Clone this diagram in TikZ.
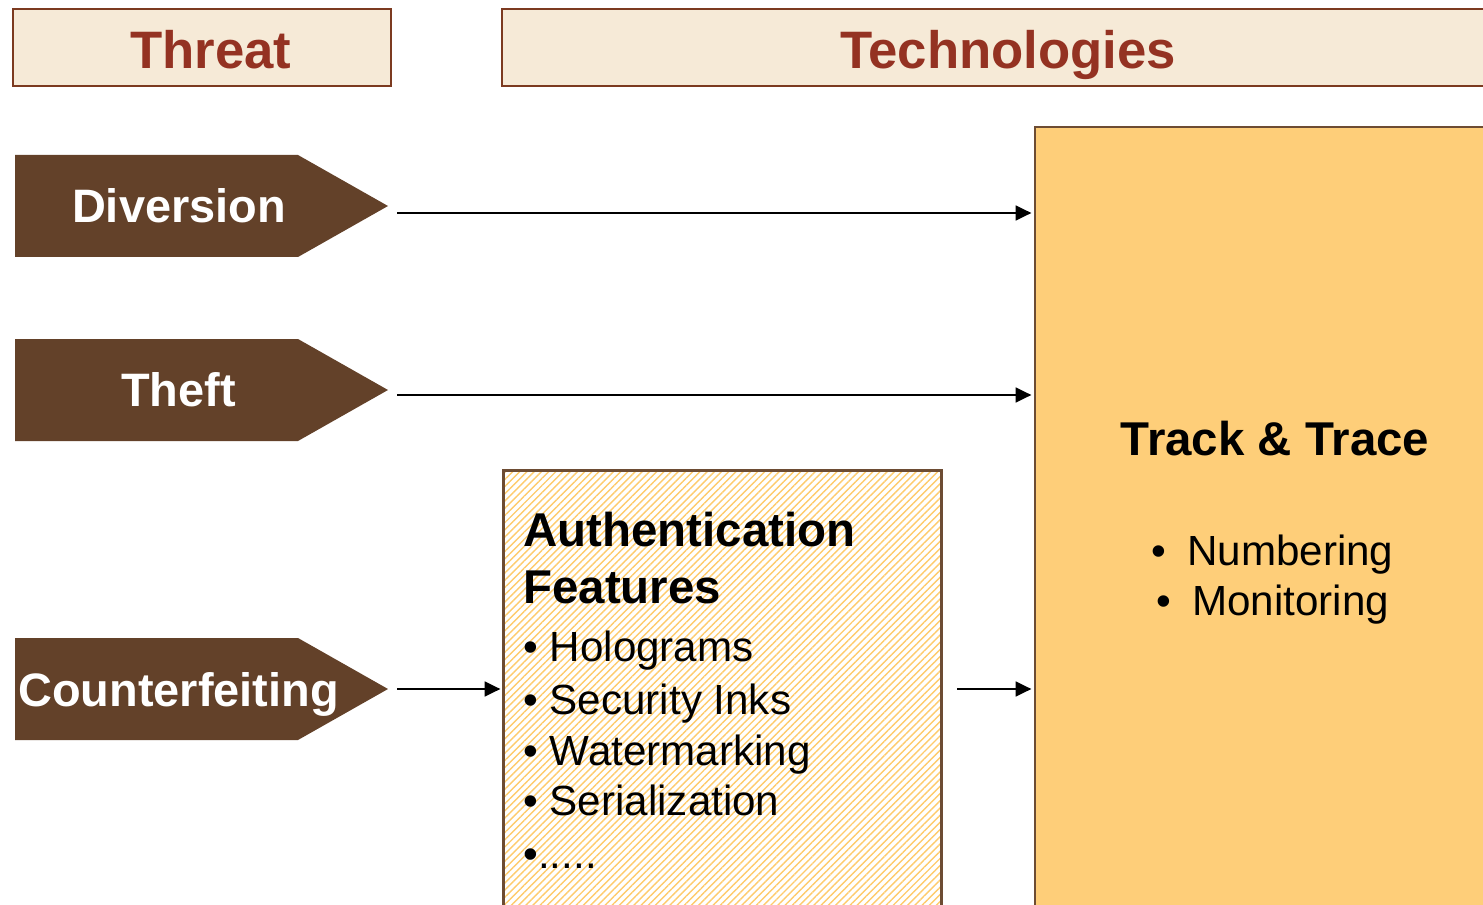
\documentclass[tikz,border=0pt]{standalone}
\usepackage{fontspec}
\setmainfont{Liberation Sans}
\usetikzlibrary{arrows.meta,patterns.meta,positioning}

\definecolor{headfill}{HTML}{F6EAD7}
\definecolor{headline}{HTML}{7C3A20}
\definecolor{headtext}{HTML}{943222}
\definecolor{threatbrown}{HTML}{634129}
\definecolor{trackfill}{HTML}{FECE79}
\definecolor{boxline}{HTML}{6D4C33}
\definecolor{hatch}{HTML}{FECB6C}

\begin{document}
\begin{tikzpicture}[x=0.02cm,y=-0.02cm]
    \tikzset{>={Triangle[length=9pt,width=8.5pt]}}
    \tikzset{head/.style={font=\fontsize{30}{36}\selectfont\bfseries,text=headtext,anchor=base,inner sep=0pt}}
    \tikzset{threat/.style={font=\fontsize{26.7}{32}\selectfont\bfseries,text=white,anchor=base,inner sep=0pt}}
    \tikzset{title/.style={font=\fontsize{27}{32}\selectfont\bfseries,inner sep=0pt}}
    \tikzset{item/.style={font=\fontsize{24}{29}\selectfont,anchor=base west,inner sep=0pt}}
    \tikzset{conn/.style={->,line width=1.1pt,shorten >=1.5pt}}
  \useasboundingbox (0,0) rectangle (1483,905);
  %\draw[step=100,gray,very thin] (0,0) grid (1483,905);

  % column heads
  \draw [line width=1.4pt,draw=headline,fill=headfill] (13,9) rectangle (391,86);
  \draw [line width=1.4pt,draw=headline,fill=headfill] (502,9) rectangle (1520,86);
\node[head] (TH) at (211,68.5) {Threat};
\node[head] (TE) at (1008,68.5) {Technologies};

  % threats
  \fill [threatbrown] (15,155) -- (298,155) -- (388,206) -- (298,257) -- (15,257) -- cycle;
  \fill [threatbrown] (15,339) -- (298,339) -- (388,390) -- (298,441) -- (15,441) -- cycle;
  \fill [threatbrown] (15,638) -- (298,638) -- (388,689) -- (298,740) -- (15,740) -- cycle;
\node[threat] (DV) at (179,222.7) {Diversion};
\node[threat] (TF) at (178.5,406.7) {Theft};
\node[threat] (CF) at (178.5,706) {Counterfeiting};

  % technologies
\node[draw=boxline,line width=1.4pt,fill=trackfill,anchor=north west,inner sep=0pt,
      minimum width=10cm,minimum height=16cm] (TT) at (1034,126) {};
\node[draw=boxline,line width=1.4pt,anchor=north west,inner sep=0pt,
      pattern={Lines[angle=45,distance=2.9pt,line width=0.8pt]},pattern color=hatch,
      minimum width=8.76cm,minimum height=10cm] (AF) at (503,470) {};

\node[title,anchor=base] (TTT) at (1275,455) {Track \& Trace};
\node[item] (N) at (1151,565) {•\hspace{12pt}Numbering};
\node[item] (M) at (1156,615) {•\hspace{12pt}Monitoring};

\node[title,anchor=base west] (AFT) at (523,546.7) {Authentication};
\node[title,anchor=base west] (AFF) at (523,603) {Features};
\node[item] (H) at (523,661.7) {• Holograms};
\node[item] (S) at (523,714) {• Security Inks};
\node[item] (W) at (523,765) {• Watermarking};
\node[item] (SE) at (523,815) {• Serialization};
\node[item] (D) at (523,868) {•.....};

\coordinate (DVout) at (397,213);
\coordinate (TFout) at (397,395);
\coordinate (CFout) at (397,689);
\coordinate (AFout) at (957,689);

\draw [conn] (DVout) -- (DVout -| TT.west);
\draw [conn] (TFout) -- (TFout -| TT.west);
\draw [conn] (CFout) -- (CFout -| AF.west);
\draw [conn] (AFout) -- (AFout -| TT.west);

\end{tikzpicture}
\end{document}
